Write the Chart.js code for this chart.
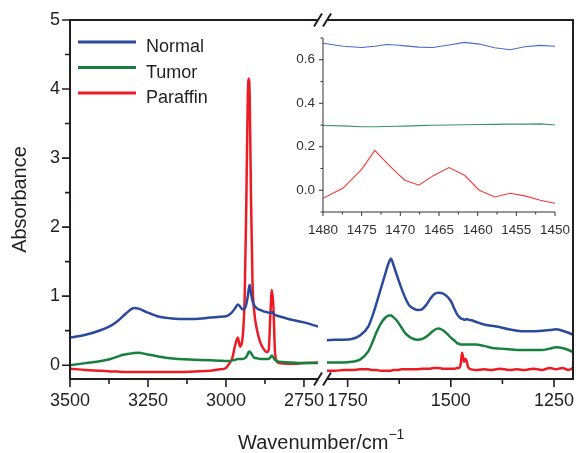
<!DOCTYPE html>
<html>
<head>
<meta charset="utf-8">
<script src="https://cdn.jsdelivr.net/npm/chart.js@4.4.1/dist/chart.umd.min.js"></script>
<style>
  body { margin: 0; background: #fff; }
  #wrap { position: relative; width: 576px; height: 453px; }
  #wrap canvas { position: absolute; left: 0; top: 0; }
  #xtitle {
    position: absolute; left: 238px; top: 430px;
    font: 20px "Liberation Sans", Arial, sans-serif; line-height: 24px;
    color: #231f20; white-space: nowrap;
  }
  #xtitle sup { font-size: 14px; vertical-align: baseline; position: relative; top: -10px; }
</style>
</head>
<body>
<div id="wrap">
  <canvas id="highPanel" width="576" height="453"></canvas>
  <canvas id="lowPanel" width="576" height="453"></canvas>
  <canvas id="zoomPanel" width="576" height="453"></canvas>
  <div id="xtitle">Wavenumber/cm<sup>−1</sup></div>
</div>
<script>
// C-H stretching region, 3500-2705 cm-1
const highWavenumbers = [3500, 3450, 3400, 3370, 3350, 3330, 3310, 3295, 3280, 3255, 3220, 3180, 3150, 3100, 3050, 3020, 3000,
  2990, 2980, 2970, 2962, 2955, 2948, 2940, 2935, 2930, 2927, 2924, 2920, 2915, 2910, 2900, 2890, 2880, 2870,
  2863, 2858, 2853, 2848, 2843, 2838, 2830, 2800, 2750, 2705];
const highNormal = [0.40, 0.44, 0.51, 0.57, 0.63, 0.71, 0.79, 0.83, 0.82, 0.77, 0.71, 0.68, 0.67, 0.67, 0.69, 0.70, 0.71,
  0.73, 0.77, 0.83, 0.88, 0.85, 0.81, 0.82, 0.88, 1.00, 1.10, 1.16, 1.05, 0.93, 0.87, 0.82, 0.80, 0.78, 0.77,
  0.76, 0.76, 0.77, 0.75, 0.73, 0.72, 0.71, 0.67, 0.62, 0.56];
const highTumor = [0.00, 0.03, 0.06, 0.09, 0.12, 0.15, 0.165, 0.175, 0.18, 0.16, 0.13, 0.10, 0.09, 0.08, 0.07, 0.065, 0.06,
  0.06, 0.07, 0.08, 0.09, 0.09, 0.09, 0.10, 0.12, 0.16, 0.19, 0.20, 0.18, 0.14, 0.11, 0.10, 0.09, 0.09, 0.09,
  0.09, 0.11, 0.14, 0.11, 0.08, 0.06, 0.05, 0.04, 0.03, 0.03];
const highParaffin = [-0.05, -0.07, -0.08, -0.09, -0.09, -0.10, -0.10, -0.10, -0.10, -0.10, -0.10, -0.10, -0.10, -0.09, -0.08, -0.06, -0.04,
  0.02, 0.10, 0.30, 0.40, 0.27, 0.35, 1.00, 2.30, 3.90, 4.15, 3.90, 2.50, 1.20, 0.80, 0.50, 0.33, 0.24, 0.19,
  0.22, 0.70, 1.09, 0.85, 0.20, 0.07, 0.03, 0.02, 0.03, 0.04];

// fingerprint region, 1800-1204 cm-1
const lowWavenumbers = [1800, 1780, 1760, 1740, 1720, 1700, 1690, 1680, 1670, 1660, 1650, 1645, 1640, 1630, 1620, 1610,
  1600, 1590, 1580, 1570, 1560, 1550, 1540, 1530, 1520, 1510, 1500, 1490, 1485, 1480, 1476, 1473, 1471, 1468,
  1465, 1462, 1458, 1450, 1440, 1420, 1400, 1380, 1360, 1340, 1320, 1300, 1280, 1260, 1245, 1230, 1215, 1204];
const lowNormal = [0.36, 0.37, 0.37, 0.38, 0.43, 0.56, 0.71, 0.90, 1.10, 1.30, 1.49, 1.54, 1.47, 1.29, 1.12, 0.97,
  0.86, 0.82, 0.80, 0.81, 0.87, 0.96, 1.03, 1.05, 1.04, 1.00, 0.93, 0.80, 0.74, 0.70, 0.68, 0.67, 0.67, 0.66,
  0.66, 0.67, 0.66, 0.65, 0.63, 0.59, 0.57, 0.55, 0.52, 0.50, 0.49, 0.49, 0.50, 0.51, 0.52, 0.50, 0.47, 0.44];
const lowTumor = [0.04, 0.04, 0.04, 0.05, 0.08, 0.20, 0.33, 0.48, 0.60, 0.68, 0.72, 0.72, 0.70, 0.64, 0.55, 0.46,
  0.41, 0.38, 0.37, 0.38, 0.41, 0.46, 0.51, 0.53, 0.51, 0.46, 0.40, 0.35, 0.32, 0.31, 0.30, 0.30, 0.30, 0.30,
  0.30, 0.30, 0.30, 0.30, 0.30, 0.28, 0.25, 0.24, 0.23, 0.22, 0.22, 0.22, 0.22, 0.24, 0.26, 0.25, 0.22, 0.19];
const lowParaffin = [-0.08, -0.08, -0.07, -0.07, -0.06, -0.06, -0.07, -0.07, -0.08, -0.08, -0.08, -0.08, -0.07, -0.07, -0.06, -0.06,
  -0.06, -0.06, -0.06, -0.05, -0.05, -0.05, -0.04, -0.04, -0.05, -0.05, -0.05, -0.05, -0.04, -0.04, 0.02, 0.18, 0.14, 0.05,
  0.09, 0.07, -0.03, -0.06, -0.07, -0.06, -0.07, -0.05, -0.07, -0.06, -0.07, -0.05, -0.07, -0.04, -0.06, -0.04, -0.07, -0.04];

// inset: 1480-1450 cm-1 close-up
const zoomWavenumbers = [1480, 1477.4, 1475.0, 1473.3, 1471.8, 1470.5, 1469.4, 1467.6, 1465.8, 1463.7, 1461.7,
  1459.8, 1457.8, 1455.8, 1453.9, 1451.9, 1450];
const zoomNormal = [0.676, 0.662, 0.656, 0.662, 0.670, 0.668, 0.664, 0.658, 0.656, 0.668, 0.680,
  0.672, 0.655, 0.646, 0.660, 0.666, 0.662];
const zoomTumor = [0.298, 0.296, 0.292, 0.292, 0.293, 0.294, 0.295, 0.297, 0.299, 0.300, 0.301,
  0.302, 0.303, 0.304, 0.304, 0.305, 0.300];
const zoomParaffin = [-0.037, 0.010, 0.096, 0.183, 0.127, 0.081, 0.046, 0.023, 0.066, 0.104, 0.069,
  0.000, -0.031, -0.014, -0.026, -0.046, -0.060];

const seriesNames = ['Normal', 'Tumor', 'Paraffin'];
const absorbanceTicks = [0, 1, 2, 3, 4, 5];
const highTicks = [3500, 3250, 3000, 2750];
const lowTicks = [1750, 1500, 1250];
const zoomXTicks = [1480, 1475, 1470, 1465, 1460, 1455, 1450];
const zoomYTicks = [0.0, 0.2, 0.4, 0.6];

const INK = '#231f20';
const FONT = '"Liberation Sans", Arial, sans-serif';
const lineColors = ['#2b4a9c', '#18803e', '#ec1c24'];
const zoomColors = ['#4a6cc0', '#3a9560', '#f03a3a'];

Chart.defaults.font.family = FONT;
Chart.defaults.color = INK;

// midpoints between neighbouring major ticks
const between = ticks => ticks.slice(1).map((t, i) => (t + ticks[i]) / 2);

const toPoints = (xs, ys) => xs.map((x, i) => ({ x, y: ys[i] }));

function makeDatasets(xs, series, colors, width, smooth) {
  return series.map((ys, i) => ({
    label: seriesNames[i],
    data: toPoints(xs, ys),
    borderColor: colors[i],
    borderWidth: width,
    pointRadius: 0,
    fill: false,
    cubicInterpolationMode: smooth ? 'monotone' : 'default',
    tension: 0
  }));
}

// axis lines, tick marks and the axis-break slashes
const framePlugin = {
  id: 'frame',
  afterDatasetsDraw(chart, args, o) {
    const { ctx, chartArea: a, scales: { x, y } } = chart;
    const pt = { lt: [a.left, a.top], rt: [a.right, a.top], lb: [a.left, a.bottom], rb: [a.right, a.bottom] };
    ctx.save();
    ctx.strokeStyle = o.color;
    ctx.lineWidth = o.width;
    ctx.lineJoin = 'miter';
    ctx.beginPath();
    o.path.forEach((k, i) => i ? ctx.lineTo(...pt[k]) : ctx.moveTo(...pt[k]));
    ctx.stroke();

    ctx.lineWidth = o.tickWidth;
    ctx.beginPath();
    const xTick = (v, len) => { const p = x.getPixelForValue(v); ctx.moveTo(p, a.bottom); ctx.lineTo(p, a.bottom + len); };
    const yTick = (v, len) => { const p = y.getPixelForValue(v); ctx.moveTo(a.left, p); ctx.lineTo(a.left - len, p); };
    (o.xMajor || []).forEach(v => xTick(v, o.major));
    (o.xMinor || []).forEach(v => xTick(v, o.minor));
    (o.yMajor || []).forEach(v => yTick(v, o.major));
    (o.yMinor || []).forEach(v => yTick(v, o.minor));
    ctx.stroke();

    if (o.breakMarks) {
      ctx.lineWidth = 2;
      ctx.beginPath();
      [a.top, a.bottom].forEach(yy => {
        [a.left - 9, a.left].forEach(cx => {
          ctx.moveTo(cx - 4, yy + 6.5);
          ctx.lineTo(cx + 4, yy - 6.5);
        });
      });
      ctx.stroke();
    }
    ctx.restore();
  }
};

// legend sitting inside the plot, top left
const innerLegend = {
  id: 'innerLegend',
  afterDraw(chart) {
    const { ctx, chartArea: a } = chart;
    ctx.save();
    ctx.font = '18px ' + FONT;
    ctx.textBaseline = 'alphabetic';
    chart.data.datasets.forEach((ds, i) => {
      const yy = a.top + 22 + i * 25.5;
      ctx.strokeStyle = ds.borderColor;
      ctx.lineWidth = 3;
      ctx.beginPath();
      ctx.moveTo(a.left + 8, yy);
      ctx.lineTo(a.left + 66, yy);
      ctx.stroke();
      ctx.fillStyle = INK;
      ctx.fillText(ds.label, a.left + 76, yy + 10);
    });
    ctx.restore();
  }
};

const fixTicks = list => scale => { scale.ticks = list.map(v => ({ value: v })); };

// fixed box sizes, and no extra room reserved for edge labels
const fitWidth = w => s => { s.width = w; s.paddingTop = 0; s.paddingBottom = 0; };
const fitHeight = h => s => { s.height = h; s.paddingLeft = 0; s.paddingRight = 0; };

function xAxis(min, max, ticks) {
  return {
    type: 'linear', reverse: true, min, max,
    afterBuildTicks: fixTicks(ticks),
    afterFit: fitHeight(74),
    grid: { display: false, drawTicks: false },
    border: { display: false },
    ticks: { font: { size: 18 }, color: INK, padding: 11, maxRotation: 0, callback: v => String(v) }
  };
}

const baseOptions = {
  responsive: false,
  animation: false,
  events: [],
  plugins: { legend: { display: false }, tooltip: { enabled: false } }
};

// left panel with the absorbance axis
new Chart(document.getElementById('highPanel'), {
  type: 'line',
  data: { datasets: makeDatasets(highWavenumbers, [highNormal, highTumor, highParaffin], lineColors, 2.5, true) },
  options: {
    ...baseOptions,
    layout: { padding: { top: 20, right: 258, left: 0, bottom: 0 } },
    scales: {
      x: xAxis(2705, 3500, highTicks),
      y: {
        min: -0.2, max: 5,
        afterBuildTicks: fixTicks(absorbanceTicks),
        afterFit: fitWidth(70),
        grid: { display: false, drawTicks: false },
        border: { display: false },
        ticks: { font: { size: 18 }, color: INK, padding: 10, callback: v => String(v) },
        title: { display: true, text: 'Absorbance', font: { size: 20 }, color: INK, padding: { top: 8, bottom: 0 } }
      }
    },
    plugins: {
      ...baseOptions.plugins,
      frame: {
        color: INK, width: 2, tickWidth: 1.6, major: 8, minor: 5,
        path: ['rt', 'lt', 'lb', 'rb'],
        xMajor: highTicks, xMinor: between(highTicks),
        yMajor: absorbanceTicks, yMinor: between(absorbanceTicks)
      }
    }
  },
  plugins: [framePlugin, innerLegend]
});

// right panel after the axis break
new Chart(document.getElementById('lowPanel'), {
  type: 'line',
  data: { datasets: makeDatasets(lowWavenumbers, [lowNormal, lowTumor, lowParaffin], lineColors, 2.5, true) },
  options: {
    ...baseOptions,
    layout: { padding: { top: 20, right: 3, left: 327, bottom: 0 } },
    scales: {
      x: xAxis(1204, 1800, lowTicks),
      y: { display: false, min: -0.2, max: 5 }
    },
    plugins: {
      ...baseOptions.plugins,
      frame: {
        color: INK, width: 2, tickWidth: 1.6, major: 8, minor: 5,
        path: ['lt', 'rt', 'rb', 'lb'],
        xMajor: lowTicks, xMinor: between(lowTicks),
        breakMarks: true
      }
    }
  },
  plugins: [framePlugin]
});

// inset close-up of the 1480-1450 band
new Chart(document.getElementById('zoomPanel'), {
  type: 'line',
  data: { datasets: makeDatasets(zoomWavenumbers, [zoomNormal, zoomTumor, zoomParaffin], zoomColors, 1.1, false) },
  options: {
    ...baseOptions,
    layout: { padding: { top: 38, right: 21, left: 0, bottom: 0 } },
    scales: {
      x: {
        type: 'linear', reverse: true, min: 1450, max: 1480,
        afterBuildTicks: fixTicks(zoomXTicks),
        afterFit: fitHeight(241),
        grid: { display: false, drawTicks: false },
        border: { display: false },
        ticks: { font: { size: 13.5 }, color: '#333', padding: 10, maxRotation: 0, callback: v => String(v) }
      },
      y: {
        min: -0.1, max: 0.7,
        afterBuildTicks: fixTicks(zoomYTicks),
        afterFit: fitWidth(323),
        grid: { display: false, drawTicks: false },
        border: { display: false },
        ticks: { font: { size: 13.5 }, color: '#333', padding: 8, callback: v => v.toFixed(1) }
      }
    },
    plugins: {
      ...baseOptions.plugins,
      frame: {
        color: '#333', width: 1, tickWidth: 1, major: 4, minor: 2.5,
        path: ['lt', 'lb', 'rb'],
        xMajor: zoomXTicks, xMinor: between(zoomXTicks),
        yMajor: [0.0, 0.2, 0.4, 0.6],
        yMinor: [-0.1, 0.1, 0.3, 0.5, 0.7]
      }
    }
  },
  plugins: [framePlugin]
});
</script>
</body>
</html>
